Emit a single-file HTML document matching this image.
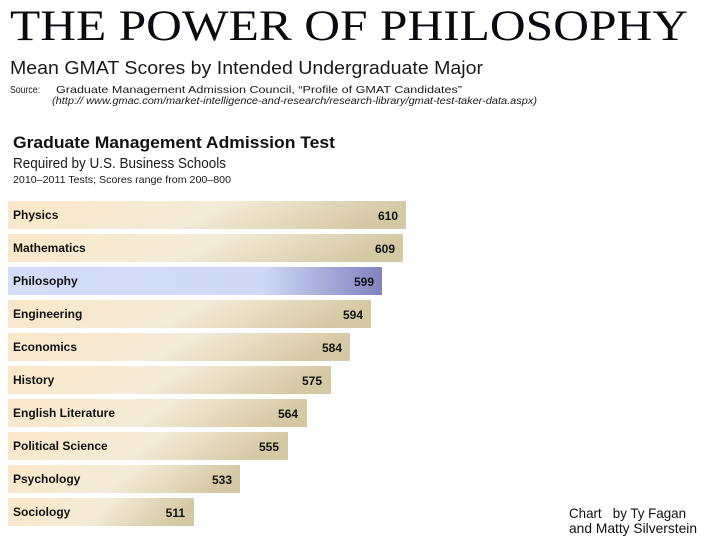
<!DOCTYPE html>
<html><head><meta charset="utf-8"><style>
html,body{margin:0;padding:0;background:#fff;}
svg{display:block;}
</style></head><body>
<svg width="712" height="546" viewBox="0 0 712 546" xmlns="http://www.w3.org/2000/svg">
<defs>
<linearGradient id="beige" x1="0" y1="0" x2="1" y2="0.15">
<stop offset="0" stop-color="#fbe7c9"/>
<stop offset="0.55" stop-color="#f3ebd7"/>
<stop offset="1" stop-color="#d5c8a4"/>
</linearGradient>
<linearGradient id="blue" x1="0" y1="0" x2="1" y2="0">
<stop offset="0" stop-color="#d3dcf9"/>
<stop offset="0.68" stop-color="#d0d8f6"/>
<stop offset="1" stop-color="#8183c0"/>
</linearGradient>
</defs>
<rect width="712" height="546" fill="#fff"/>
<text x="10" y="40" font-family="Liberation Serif, serif" font-size="43" fill="#0a0a10" textLength="678" lengthAdjust="spacingAndGlyphs">THE POWER OF PHILOSOPHY</text>
<text x="10" y="74" font-family="Liberation Sans, sans-serif" font-size="18" fill="#1a1a1a" textLength="473" lengthAdjust="spacingAndGlyphs">Mean GMAT Scores by Intended Undergraduate Major</text>
<text x="10" y="93" font-family="Liberation Sans, sans-serif" font-size="10.5" fill="#1a1a1a" textLength="30" lengthAdjust="spacingAndGlyphs">Source:</text>
<text x="56" y="93" font-family="Liberation Sans, sans-serif" font-size="10.5" fill="#1a1a1a" textLength="406" lengthAdjust="spacingAndGlyphs">Graduate Management Admission Council, “Profile of GMAT Candidates”</text>
<text x="52" y="104" font-family="Liberation Sans, sans-serif" font-size="10.5" font-style="italic" fill="#1a1a1a" textLength="485" lengthAdjust="spacingAndGlyphs">(http:// www.gmac.com/market-intelligence-and-research/research-library/gmat-test-taker-data.aspx)</text>

<text x="13" y="148" font-family="Liberation Sans, sans-serif" font-size="17" font-weight="bold" fill="#111" textLength="322" lengthAdjust="spacingAndGlyphs">Graduate Management Admission Test</text>
<text x="13" y="168" font-family="Liberation Sans, sans-serif" font-size="14.5" fill="#1a1a1a" textLength="213" lengthAdjust="spacingAndGlyphs">Required by U.S. Business Schools</text>
<text x="13" y="183" font-family="Liberation Sans, sans-serif" font-size="10.5" fill="#1a1a1a" textLength="218" lengthAdjust="spacingAndGlyphs">2010–2011 Tests; Scores range from 200–800</text>

<g font-family="Liberation Sans, sans-serif" font-size="12" font-weight="bold" fill="#111">
<rect x="8" y="201" width="398" height="28" fill="url(#beige)"/>
<text x="13" y="219">Physics</text><text x="398" y="220" text-anchor="end">610</text>
<rect x="8" y="234" width="395" height="28" fill="url(#beige)"/>
<text x="13" y="252">Mathematics</text><text x="395" y="253" text-anchor="end">609</text>
<rect x="8" y="267" width="374" height="28" fill="url(#blue)"/>
<text x="13" y="285">Philosophy</text><text x="374" y="286" text-anchor="end">599</text>
<rect x="8" y="300" width="363" height="28" fill="url(#beige)"/>
<text x="13" y="318">Engineering</text><text x="363" y="319" text-anchor="end">594</text>
<rect x="8" y="333" width="342" height="28" fill="url(#beige)"/>
<text x="13" y="351">Economics</text><text x="342" y="352" text-anchor="end">584</text>
<rect x="8" y="366" width="323" height="28" fill="url(#beige)"/>
<text x="13" y="384">History</text><text x="322" y="385" text-anchor="end">575</text>
<rect x="8" y="399" width="299" height="28" fill="url(#beige)"/>
<text x="13" y="417">English Literature</text><text x="298" y="418" text-anchor="end">564</text>
<rect x="8" y="432" width="280" height="28" fill="url(#beige)"/>
<text x="13" y="450">Political Science</text><text x="279" y="451" text-anchor="end">555</text>
<rect x="8" y="465" width="232" height="28" fill="url(#beige)"/>
<text x="13" y="483">Psychology</text><text x="232" y="484" text-anchor="end">533</text>
<rect x="8" y="498" width="186" height="28" fill="url(#beige)"/>
<text x="13" y="516">Sociology</text><text x="185" y="517" text-anchor="end">511</text>
</g>

<text x="569" y="518" font-family="Liberation Sans, sans-serif" font-size="14" fill="#111" textLength="117" lengthAdjust="spacingAndGlyphs" xml:space="preserve">Chart   by Ty Fagan</text>
<text x="569" y="533" font-family="Liberation Sans, sans-serif" font-size="14" fill="#111" textLength="128" lengthAdjust="spacingAndGlyphs">and Matty Silverstein</text>
</svg>
</body></html>
